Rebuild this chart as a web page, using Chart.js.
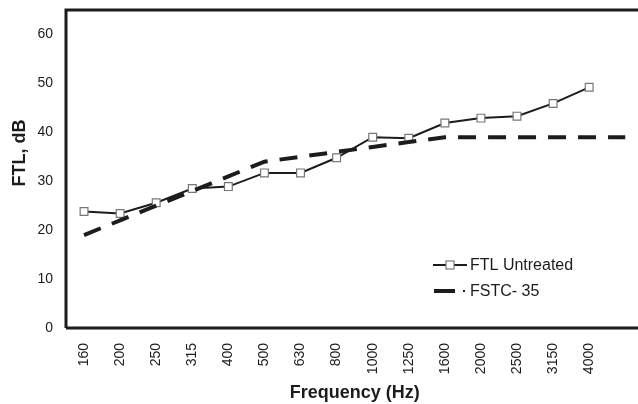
<!DOCTYPE html>
<html>
<head>
<meta charset="utf-8">
<script src="https://cdn.jsdelivr.net/npm/chart.js@4/dist/chart.umd.min.js"></script>
<style>
  html, body { margin: 0; padding: 0; background: #fff; overflow: hidden; }
</style>
</head>
<body>
<canvas id="ftl_chart" width="650" height="404"></canvas>
<script>
// frequency bands (last one is an empty slot the FSTC line runs into)
const frequencies = ["160", "200", "250", "315", "400", "500", "630", "800", "1000", "1250", "1600", "2000", "2500", "3150", "4000", ""];
const ftlUntreated = [23.8, 23.4, 25.6, 28.5, 28.9, 31.7, 31.7, 34.8, 39, 38.8, 41.9, 42.9, 43.3, 45.9, 49.2, null];
const fstc35 = [19, 22, 25, 28, 31, 34, 35, 36, 37, 38, 39, 39, 39, 39, 39, 39];
const yTicks = [0, 10, 20, 30, 40, 50, 60];

const FONT = "Arial, 'Liberation Sans', sans-serif";
const INK = "#1c1c1c";

// box lines, y title and legend drawn by hand
const frameAndLegend = {
  id: "frame_and_legend",
  afterDraw(chart) {
    const ctx = chart.ctx;
    const a = chart.chartArea;
    ctx.save();
    ctx.strokeStyle = INK;
    ctx.lineWidth = 3;
    ctx.beginPath();
    ctx.moveTo(a.left, a.bottom);
    ctx.lineTo(a.left, a.top);
    ctx.lineTo(chart.width, a.top);
    ctx.moveTo(a.left, a.bottom);
    ctx.lineTo(chart.width, a.bottom);
    ctx.stroke();

    // y title
    ctx.fillStyle = INK;
    ctx.font = "bold 18px " + FONT;
    ctx.textAlign = "center";
    ctx.textBaseline = "middle";
    ctx.translate(20, 153);
    ctx.rotate(-Math.PI / 2);
    ctx.fillText("FTL, dB", 0, 0);
    ctx.setTransform(1, 0, 0, 1, 0, 0);

    // legend
    ctx.font = "16px " + FONT;
    ctx.textAlign = "left";
    ctx.lineWidth = 2;
    ctx.beginPath();
    ctx.moveTo(433, 265);
    ctx.lineTo(467, 265);
    ctx.stroke();
    ctx.fillStyle = "#fff";
    ctx.strokeStyle = "#777";
    ctx.lineWidth = 1.2;
    ctx.fillRect(446, 261, 8, 8);
    ctx.strokeRect(446, 261, 8, 8);
    ctx.fillStyle = INK;
    ctx.fillText("FTL Untreated", 470, 266);

    ctx.strokeStyle = INK;
    ctx.lineWidth = 4;
    ctx.beginPath();
    ctx.moveTo(434, 291);
    ctx.lineTo(455, 291);
    ctx.stroke();
    ctx.fillRect(463, 290, 2, 2);
    ctx.fillText("FSTC- 35", 470, 292);
    ctx.restore();
  },
};

const ctx = document.getElementById("ftl_chart").getContext("2d");
const ftlChart = new Chart(ctx, {
  type: "line",
  data: {
    labels: frequencies,
    datasets: [
      {
        label: "FSTC- 35",
        data: fstc35,
        borderColor: INK,
        borderWidth: 4,
        borderDash: [18, 12],
        pointRadius: 0,
        fill: false,
        tension: 0,
      },
      {
        label: "FTL Untreated",
        data: ftlUntreated,
        borderColor: INK,
        borderWidth: 2,
        pointStyle: "rect",
        pointRadius: 5.5,
        pointBorderColor: "#777",
        pointBackgroundColor: "#fff",
        pointBorderWidth: 1.2,
        fill: false,
        tension: 0,
      },
    ],
  },
  options: {
    responsive: false,
    animation: false,
    devicePixelRatio: 1,
    layout: {
      padding: { top: 10, left: 0, right: 0, bottom: 0 },
    },
    plugins: {
      legend: { display: false },
      tooltip: { enabled: false },
    },
    scales: {
      x: {
        offset: true,
        border: { display: false },
        grid: { display: false, drawTicks: false },
        ticks: {
          autoSkip: false,
          minRotation: 90,
          maxRotation: 90,
          padding: 15,
          color: INK,
          font: { family: FONT, size: 14 },
        },
        title: {
          display: true,
          text: "Frequency (Hz)",
          color: INK,
          font: { family: FONT, size: 18, weight: "bold" },
          padding: 0,
        },
        afterFit(scale) {
          scale.height = 76;
          scale.paddingLeft = 0;
          scale.paddingRight = 0;
        },
      },
      y: {
        min: 0,
        max: 65,
        border: { display: false },
        grid: { display: false, drawTicks: false },
        afterBuildTicks(scale) {
          scale.ticks = yTicks.map((v) => ({ value: v }));
        },
        ticks: {
          padding: 13,
          color: INK,
          font: { family: FONT, size: 14 },
        },
        afterFit(scale) {
          scale.width = 66;
          scale.paddingTop = 0;
          scale.paddingBottom = 0;
        },
      },
    },
  },
  plugins: [frameAndLegend],
});
</script>
</body>
</html>
